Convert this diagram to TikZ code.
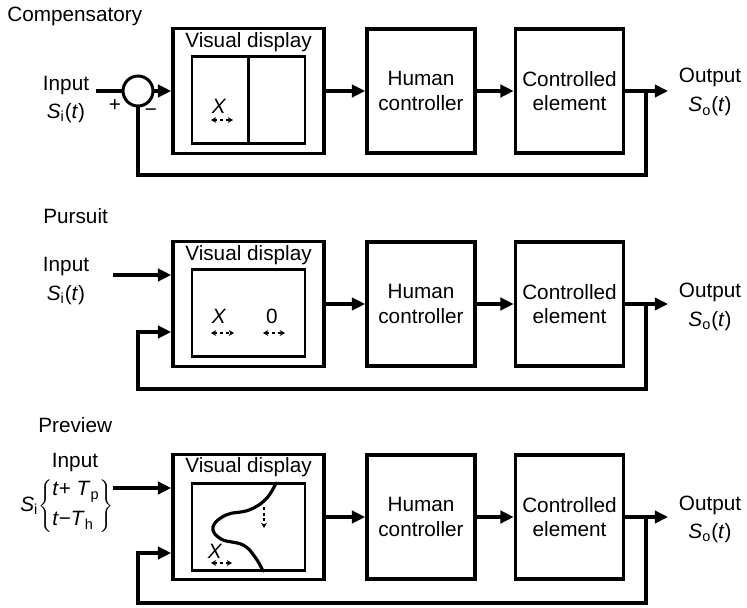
\documentclass[tikz,border=0pt]{standalone}
\usepackage{fontspec}
\setmainfont{Liberation Sans}
\usetikzlibrary{positioning, arrows.meta, calc}

\newcommand{\sigin}{\textit{S}\textsubscript{i}(\textit{t})}
\newcommand{\sigout}{\textit{S}\textsubscript{o}(\textit{t})}

\begin{document}
\begin{tikzpicture}[
  x=0.02cm, y=-0.02cm,
  font=\fontsize{11.8}{14}\selectfont,
  every node/.style={align=center, inner sep=0pt},
  blk/.style={rectangle, draw, line width=2.1pt, minimum width=2.16cm,
              minimum height=2.48cm},
  dispbox/.style={blk, minimum width=3.02cm, minimum height=2.5cm},
  screen/.style={rectangle, draw, line width=1.6pt, minimum width=2.26cm,
                 minimum height=1.74cm},
  sumnode/.style={circle, draw, line width=1.7pt, minimum size=0.6cm},
  wire/.style={line width=1.8pt},
  arr/.style={wire, -{Triangle[length=7.5pt, width=7pt]}},
  mv/.style={{Stealth[length=3pt, width=3.4pt]}-{Stealth[length=3pt, width=3.4pt]},
             line width=0.8pt, dash pattern=on 1.8pt off 1.4pt},
  curve/.style={line width=1.8pt, line cap=round}
]
  \useasboundingbox (0,0) rectangle (747,608);

  % --- compensatory
  \node[anchor=base west] (t1) at (7,22) {Compensatory};
  \node[sumnode] (sum1) at (138,91) {};
  \node[dispbox] (vd1) at (248.5,91) {};
  \node[screen] (disp1) at (248.5,100) {};
  \node[anchor=base] (vl1) at ($(vd1.north)+(0,21)$) {Visual display};
  \node[blk] (hc1) at (421,91) {Human\\controller};
  \node[blk] (ce1) at (569.5,91) {Controlled\\element};
  \node[anchor=base] (in1t) at (66,91) {Input};
  \node[anchor=base] (in1s) at (66,118) {\sigin};
  \node[anchor=base] (out1t) at (710,83) {Output};
  \node[anchor=base] (out1s) at (710,112) {\sigout};
  \node (plus1) at (115,106) {+};
  \node (minus1) at (151,113) {−};
  \node[anchor=base] (x1) at (219,113) {\textit{X}};
  \coordinate (in1) at (96,91);
  \coordinate (fb1) at (646,91);
  \coordinate (out1) at (668,91);

  \draw[line width=1.3pt] (disp1.north) -- (disp1.south);
  \draw[mv] ($(x1.base)+(-8,7)$) -- ($(x1.base)+(14,7)$);
  \draw[wire] (in1) -- (sum1.west);
  \draw[arr] (sum1.east) -- (vd1.west);
  \draw[arr] (vd1.east) -- (hc1.west);
  \draw[arr] (hc1.east) -- (ce1.west);
  \draw[arr] (ce1.east) -- (out1);
  \draw[wire] (fb1) -- ++(0,84) -| (sum1.south);

  % --- pursuit
  \node[anchor=base west] (t2) at (43,223) {Pursuit};
  \node[dispbox] (vd2) at (248.5,304) {};
  \node[screen] (disp2) at (248.5,313) {};
  \node[anchor=base] (vl2) at ($(vd2.north)+(0,21)$) {Visual display};
  \node[blk] (hc2) at (421,304) {Human\\controller};
  \node[blk] (ce2) at (569.5,304) {Controlled\\element};
  \node[anchor=base] (in2t) at (66,271) {Input};
  \node[anchor=base] (in2s) at (66,300) {\sigin};
  \node[anchor=base] (out2t) at (710,297) {Output};
  \node[anchor=base] (out2s) at (710,326) {\sigout};
  \node[anchor=base] (x2) at (219,323) {\textit{X}};
  \node[anchor=base] (z2) at (272,323) {0};
  \coordinate (in2) at (113,275);
  \coordinate (fbin2) at (138,332);
  \coordinate (fb2) at (646,304);
  \coordinate (out2) at (668,304);

  \draw[mv] ($(x2.base)+(-8,10)$) -- ($(x2.base)+(15,10)$);
  \draw[mv] ($(z2.base)+(-9,10)$) -- ($(z2.base)+(13,10)$);
  \draw[arr] (in2) -- (in2 -| vd2.west);
  \draw[arr] (vd2.east) -- (hc2.west);
  \draw[arr] (hc2.east) -- (ce2.west);
  \draw[arr] (ce2.east) -- (out2);
  \draw[arr] (fb2) -- ++(0,85) -| (fbin2) -- (fbin2 -| vd2.west);

  % --- preview
  \node[anchor=base west] (t3) at (38,432) {Preview};
  \node[dispbox] (vd3) at (248.5,517) {};
  \node[screen] (disp3) at (248.5,527) {};
  \node[anchor=base] (vl3) at ($(vd3.north)+(0,20)$) {Visual display};
  \node[blk] (hc3) at (421,517) {Human\\controller};
  \node[blk] (ce3) at (569.5,517) {Controlled\\element};
  \node[anchor=base] (in3t) at (75,467) {Input};
  \node (in3s) at (67,506) {\textit{S}\textsubscript{i}$\left\{\begin{tabular}{@{}l@{}}\textit{t}+ \textit{T}\textsubscript{p}\\[3pt]\textit{t}−\textit{T}\textsubscript{h}\end{tabular}\right\}$};
  \node[anchor=base] (out3t) at (710,510) {Output};
  \node[anchor=base] (out3s) at (710,538) {\sigout};
  \node[anchor=base] (x3) at (215,558) {\textit{X}};
  \coordinate (in3) at (113,488);
  \coordinate (fbin3) at (138,553);
  \coordinate (fb3) at (646,517);
  \coordinate (out3) at (668,517);

  \draw[curve] plot[smooth, tension=0.7] coordinates {(276,483) (266,499) (249,510)
    (226,515) (213,527) (221,539) (243,545) (255,557) (263,571)};
  \draw[mv] ($(x3.base)+(-4,5)$) -- ($(x3.base)+(17,5)$);
  \draw[mv, -{Stealth[length=3pt, width=3.4pt]}] (264,507) -- (264,528);
  \draw[arr] (in3) -- (in3 -| vd3.west);
  \draw[arr] (vd3.east) -- (hc3.west);
  \draw[arr] (hc3.east) -- (ce3.west);
  \draw[arr] (ce3.east) -- (out3);
  \draw[arr] (fb3) -- ++(0,86) -| (fbin3) -- (fbin3 -| vd3.west);
\end{tikzpicture}
\end{document}
